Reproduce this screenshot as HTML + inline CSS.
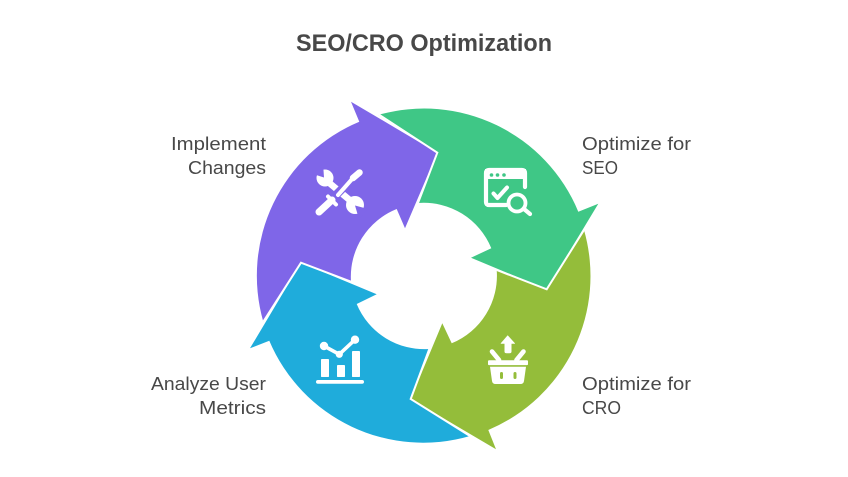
<!DOCTYPE html>
<html>
<head>
<meta charset="utf-8">
<style>
html,body{margin:0;padding:0;background:#fff;width:848px;height:477px;overflow:hidden}
svg{display:block}
text{font-family:"Liberation Sans",sans-serif;fill:#484848}
</style>
</head>
<body>
<svg width="848" height="477" viewBox="0 0 848 477" xmlns="http://www.w3.org/2000/svg">
<rect width="848" height="477" fill="#fff"/>
<text x="296" y="51" font-size="24" font-weight="700" textLength="256" lengthAdjust="spacingAndGlyphs">SEO/CRO Optimization</text>

<!-- Green -->
<path d="M378 115 A167 167 0 0 1 578.3 211.7 L598.3 203.7 L546.7 289.3 L471 257.7 L491.3 248.3 A73 73 0 0 0 418 203 L437 153 Z" fill="#3FC786"/>
<!-- Olive -->
<path d="M584 230 A167 167 0 0 1 488.3 430 L496 449.3 L410.7 399 L442.3 323.3 L451.7 343.3 A73 73 0 0 0 496.7 270 L546.7 289.3 Z" fill="#94BD3A"/>
<!-- Blue -->
<path d="M470 436 A167 167 0 0 1 269.3 340.7 L250 348.3 L301 262.7 L376.7 294.3 L356.7 304 A73 73 0 0 0 429.3 349 L410.7 399 Z" fill="#1FACDB"/>
<!-- Purple -->
<path d="M263.3 321.7 A167 167 0 0 1 359.3 121.7 L351 101.7 L437.3 152.7 L405 228.3 L396.7 209 A73 73 0 0 0 351 281.7 L301 262.7 Z" fill="#7F66E8"/>

<!-- white separators -->
<g fill="none" stroke="#fff" stroke-width="2" stroke-linejoin="miter">
<polyline points="378,114 437.3,152.7 418,203"/>
<polyline points="584,230 546.7,289.3 496.7,270"/>
<polyline points="429.3,349 410.7,399 470,436"/>
<polyline points="263.3,321.7 301,262.7 351,281.7"/>
</g>

<!-- Tools icon -->
<g fill="#fff">
<circle cx="325" cy="178" r="8.5"/>
<circle cx="355" cy="205" r="9"/>
</g>
<line x1="327" y1="181" x2="352" y2="202" stroke="#fff" stroke-width="6.5"/>
<polygon points="324,177.5 313,174 323,163" fill="#7F66E8"/>
<polygon points="355,205.5 368,209 359,219" fill="#7F66E8"/>
<line x1="326" y1="205" x2="353" y2="178" stroke="#7F66E8" stroke-width="8.5"/>
<g fill="none" stroke="#fff" stroke-linecap="round">
<line x1="338" y1="195" x2="353" y2="178" stroke-width="4"/>
<line x1="353" y1="178" x2="359.5" y2="172.5" stroke-width="6.5"/>
<line x1="319" y1="212" x2="332" y2="200" stroke-width="7"/>
<line x1="328" y1="196.5" x2="336" y2="204.5" stroke-width="4"/>
</g>

<!-- SEO icon -->
<g fill="none" stroke="#fff" stroke-linecap="round" stroke-linejoin="round">
<path d="M506 205 H489 Q486 205 486 202 V173 Q486 170 489 170 H522 Q525 170 525 173 V187" stroke-width="4.2"/>
<polyline points="493.5,193.5 497.5,198 507,187.5" stroke-width="4"/>
<circle cx="517" cy="203" r="8.5" stroke-width="3.8"/>
<line x1="524" y1="209" x2="530" y2="214" stroke-width="4.2"/>
</g>
<rect x="485" y="169" width="41" height="10" fill="#fff"/>
<circle cx="491.5" cy="175" r="1.8" fill="#3FC786"/>
<circle cx="497.5" cy="175" r="1.8" fill="#3FC786"/>
<circle cx="504" cy="175" r="1.8" fill="#3FC786"/>

<!-- Basket icon -->
<path d="M507.7 335.7 L514.7 343.5 L511.2 343.5 V351.5 Q511.2 353 509.5 353 H506.5 Q504.8 353 504.8 351.5 V343.5 L501 343.5 Z" fill="#fff" stroke="#fff" stroke-width="0.6" stroke-linejoin="round"/>
<g fill="none" stroke="#fff" stroke-width="4.6" stroke-linecap="round">
<line x1="492" y1="351.5" x2="499" y2="360"/>
<line x1="523.5" y1="351.5" x2="516.5" y2="360"/>
</g>
<rect x="488" y="360.3" width="40" height="4.8" rx="1" fill="#fff"/>
<path d="M490 366.7 H526 L524 381 Q523.5 384 520.5 384 H495.5 Q492.5 384 492 381 Z" fill="#fff"/>
<rect x="500" y="372" width="3" height="7" rx="1.5" fill="#94BD3A"/>
<rect x="513.5" y="372" width="3" height="7" rx="1.5" fill="#94BD3A"/>

<!-- Chart icon -->
<g fill="#fff">
<rect x="321" y="359" width="8" height="18" rx="0.8"/>
<rect x="337" y="365" width="8" height="12" rx="0.8"/>
<rect x="352" y="351" width="8" height="26" rx="0.8"/>
<rect x="316" y="380" width="48" height="3.8" rx="1.9"/>
<circle cx="324" cy="346" r="4.2"/>
<circle cx="339.3" cy="354.3" r="3.6"/>
<circle cx="355" cy="339.7" r="4.2"/>
</g>
<polyline points="324,346 339.3,354.3 355,339.7" fill="none" stroke="#fff" stroke-width="3.6"/>

<!-- Labels -->
<text x="582" y="150" font-size="18" textLength="109" lengthAdjust="spacingAndGlyphs">Optimize for</text>
<text x="582" y="174" font-size="18" textLength="36" lengthAdjust="spacingAndGlyphs">SEO</text>
<text x="582" y="390" font-size="18" textLength="109" lengthAdjust="spacingAndGlyphs">Optimize for</text>
<text x="582" y="414" font-size="18" textLength="39" lengthAdjust="spacingAndGlyphs">CRO</text>
<text x="171" y="150" font-size="18" textLength="95" lengthAdjust="spacingAndGlyphs">Implement</text>
<text x="188" y="174" font-size="18" textLength="78" lengthAdjust="spacingAndGlyphs">Changes</text>
<text x="151" y="390" font-size="18" textLength="115" lengthAdjust="spacingAndGlyphs">Analyze User</text>
<text x="199" y="414" font-size="18" textLength="67" lengthAdjust="spacingAndGlyphs">Metrics</text>
</svg>
</body>
</html>
